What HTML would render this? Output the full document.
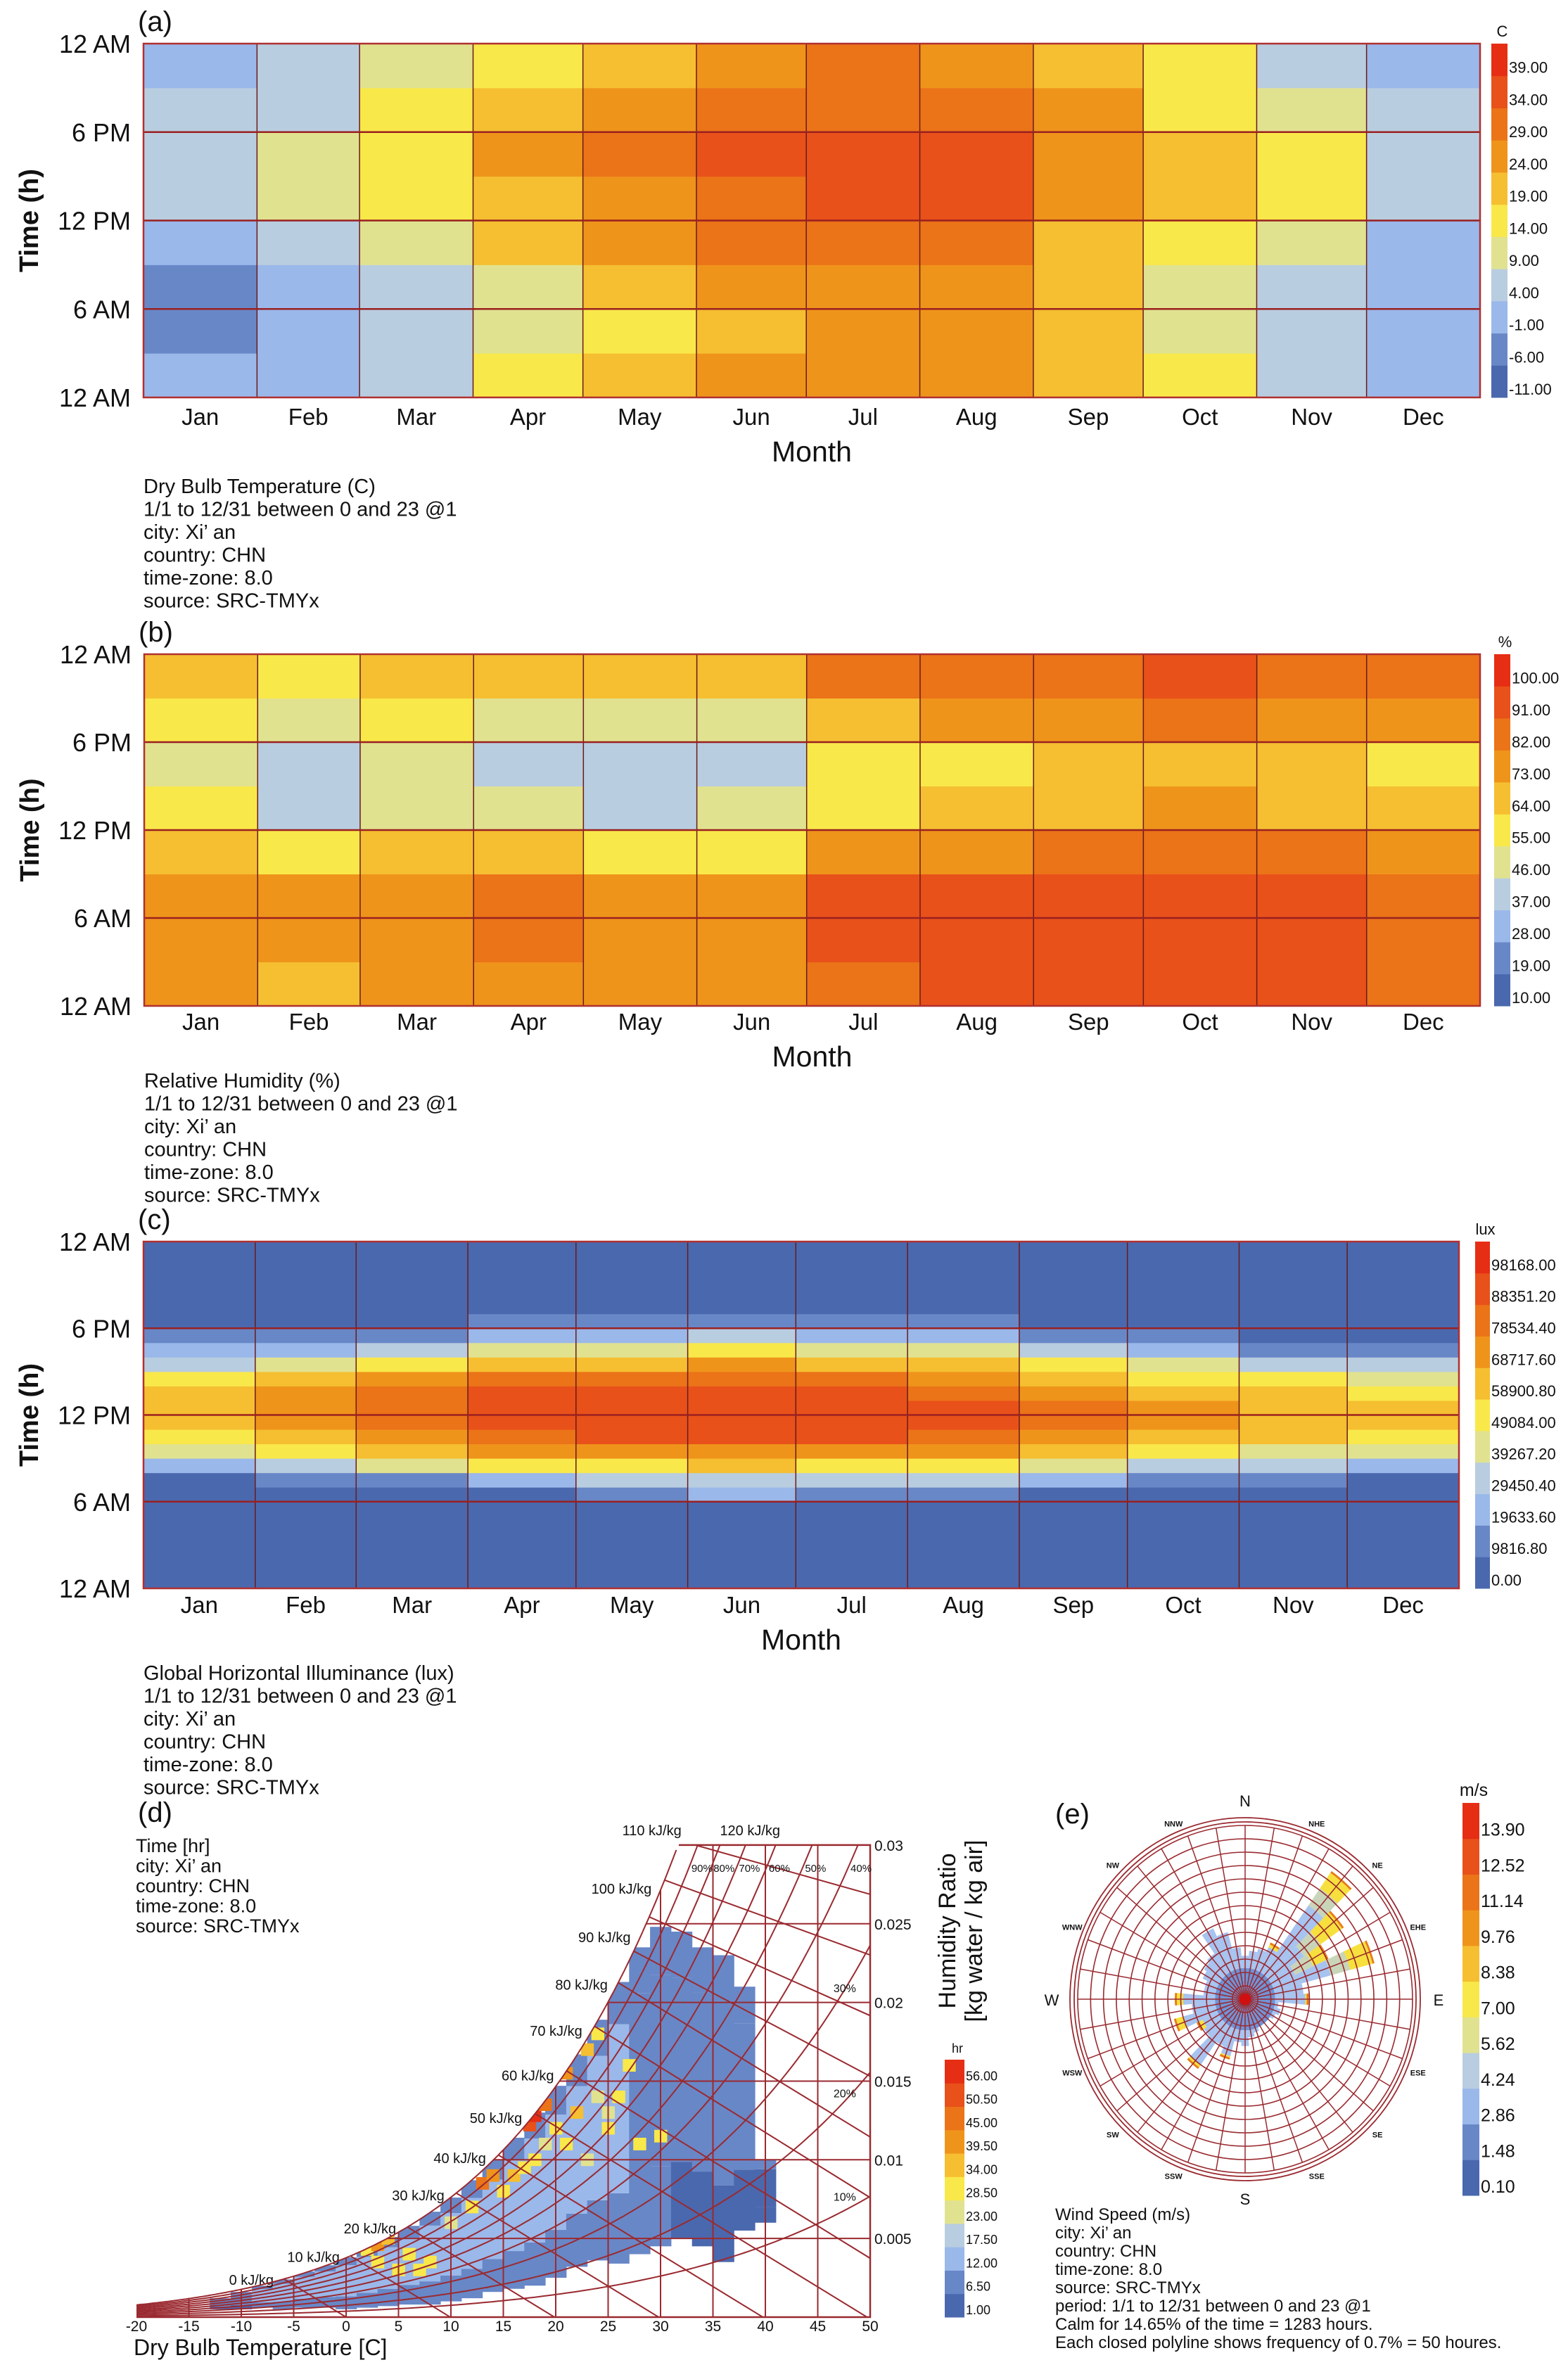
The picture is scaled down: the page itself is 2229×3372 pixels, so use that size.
<!DOCTYPE html>
<html><head><meta charset="utf-8"><title>Xi'an climate charts</title>
<style>
html,body{margin:0;padding:0;background:#fff;width:2229px;height:3372px;overflow:hidden;position:relative;}
svg{display:block;overflow:hidden;position:absolute;left:0;top:0;}
text{font-family:"Liberation Sans Narrow","Liberation Sans",sans-serif;fill:#111;}
.b{font-family:"Liberation Sans",sans-serif;}
</style></head>
<body>
<svg id="root" xmlns="http://www.w3.org/2000/svg" width="2229" height="3372" viewBox="0 0 2229 3372">
<rect x="0" y="0" width="2229" height="3372" fill="#fff"/>
</svg>
<script>
// ---------- DATA ----------
const monthNames = ["Jan","Feb","Mar","Apr","May","Jun","Jul","Aug","Sep","Oct","Nov","Dec"];
const monthStart = [0,31,59,90,120,151,181,212,243,273,304,334,365];
// dry bulb temperature (C), 8 three-hour bins (0-3 ... 21-24) per month
const tempJan=[-3,-4,-4,0,4,5,2,0];
const tempFeb=[1,0,0,4,9,10,6,3];
const tempMar=[6,5,5,10,15,16,12,9];
const tempApr=[12,10,11,17,21,22,18,15];
const tempMay=[17,15,17,23,26,27,24,20];
const tempJun=[22,21,23,27,31,32,29,25];
const tempJul=[25,24,25,29,33,33,30,27];
const tempAug=[24,23,24,28,32,32,29,26];
const tempSep=[18,17,18,21,24,25,22,20];
const tempOct=[12,11,11,15,18,19,15,13];
const tempNov=[5,4,4,8,12,12,8,6];
const tempDec=[-1,-2,-2,1,5,6,2,0];
const tempLabels=["-11.00","-6.00","-1.00","4.00","9.00","14.00","19.00","24.00","29.00","34.00","39.00"];
// relative humidity (%)
const rhJan=[72,75,75,66,52,48,58,68];
const rhFeb=[66,70,70,56,40,36,46,58];
const rhMar=[72,76,76,60,46,42,52,64];
const rhApr=[74,78,78,60,44,40,50,64];
const rhMay=[70,74,74,56,40,36,46,60];
const rhJun=[70,74,74,55,42,38,46,60];
const rhJul=[85,88,88,72,58,55,66,80];
const rhAug=[88,92,92,76,62,58,72,84];
const rhSep=[90,93,93,80,68,64,76,86];
const rhOct=[90,93,93,82,70,66,78,88];
const rhNov=[88,90,90,80,68,64,76,86];
const rhDec=[82,85,85,74,60,56,70,80];
const rhLabels=["10.00","19.00","28.00","37.00","46.00","55.00","64.00","73.00","82.00","91.00","100.00"];
// global horizontal illuminance (lux), hourly 0..23
const luxJan=[0,0,0,0,0,0,0,0,22000,42000,52000,60000,60000,55000,48000,32000,18000,8000,0,0,0,0,0,0];
const luxFeb=[0,0,0,0,0,0,0,6000,28000,48000,60000,66000,68000,64000,56000,40000,24000,10000,0,0,0,0,0,0];
const luxMar=[0,0,0,0,0,0,0,12000,35000,55000,70000,78000,80000,76000,66000,50000,30000,12000,2000,0,0,0,0,0];
const luxApr=[0,0,0,0,0,0,4000,22000,45000,65000,80000,88000,88000,84000,74000,58000,38000,18000,5000,0,0,0,0,0];
const luxMay=[0,0,0,0,0,1000,12000,30000,52000,70000,84000,90000,92000,88000,78000,62000,42000,22000,8000,1000,0,0,0,0];
const luxJun=[0,0,0,0,0,3000,15000,32000,55000,72000,86000,92000,92000,88000,80000,64000,45000,25000,10000,2000,0,0,0,0];
const luxJul=[0,0,0,0,0,1000,12000,30000,52000,70000,84000,90000,92000,88000,78000,62000,42000,24000,10000,1000,0,0,0,0];
const luxAug=[0,0,0,0,0,0,8000,26000,48000,66000,80000,86000,86000,82000,72000,56000,38000,20000,6000,0,0,0,0,0];
const luxSep=[0,0,0,0,0,0,4000,20000,40000,58000,70000,76000,76000,72000,62000,46000,28000,12000,2000,0,0,0,0,0];
const luxOct=[0,0,0,0,0,0,1000,14000,34000,50000,62000,68000,68000,62000,52000,36000,20000,6000,0,0,0,0,0,0];
const luxNov=[0,0,0,0,0,0,0,8000,26000,42000,54000,60000,60000,55000,46000,30000,14000,4000,0,0,0,0,0,0];
const luxDec=[0,0,0,0,0,0,0,4000,20000,38000,50000,56000,56000,52000,44000,28000,12000,3000,0,0,0,0,0,0];
const luxLabels=["0.00","9816.80","19633.60","29450.40","39267.20","49084.00","58900.80","68717.60","78534.40","88351.20","98168.00"];
// psychrometric occupancy columns (dry bulb C, humidity ratio g/kg, hours)
const psyT=[-12,-10,-8,-6,-4,-2,0,2,4,6,8,10,12,14,16,18,20,22,24,26,28,30,32,34,36,38,40];
const psyLow=[0.5,0.5,0.6,0.5,0.6,0.6,0.5,0.6,0.7,0.8,0.8,1.0,1.2,1.6,1.8,2.0,2.5,3.2,3.6,3.4,4.0,4.5,5.0,4.5,3.5,5.5,6.0];
const psyHigh=[1.2,1.6,2.0,2.4,2.9,3.3,3.8,4.4,5.1,5.8,6.7,7.6,8.7,10,11.4,13,14.7,16.7,18.9,21.3,23.5,24.8,24.5,23.5,23.0,21,10];
const psyEdgeHours=[3,3,4,4,4,5,5,5,5,5,5,5,5,5,5,5,5,5,5,4,4,4,3,3,3,3,2];
const psyCoreHours=[6,8,10,11,11,12,12,13,12,12,12,13,14,14,14,14,13,12,11,10,9,8,7,6,5,4,3];
const hotT=[13,14,17.5,18,19,21,23,24,2,3,4,20,22,25,28,30,5,8,15,26,18,12,16,6,27,10,21,24,19,23,17,25,3,7];
const hotW=[8.5,9.0,12.2,12.8,13.5,15.5,17,18,4.3,4.6,5.0,12,13,12,11,11.5,3.0,3.5,8,14,10,7,9,4,16,6,11,14,11,10,9.5,13,3.5,3];
const hotH=[45,40,50,56,45,40,35,30,30,40,35,30,32,30,28,30,30,28,30,30,28,30,32,30,30,24,26,25,22,22,26,24,30,28];
const psyLabels=["1.00","6.50","12.00","17.50","23.00","28.50","34.00","39.50","45.00","50.50","56.00"];
// wind rose: direction (deg from N), frequency length (fraction of radius), high-speed tip fraction
const windDir=[0,10,20,30,40,50,60,70,80,90,100,110,120,130,140,150,160,170,180,190,200,210,220,230,240,250,260,270,280,290,300,310,320,330,340,350];
const windLen=[0.25,0.28,0.30,0.36,0.90,0.72,0.55,0.80,0.35,0.38,0.20,0.22,0.20,0.18,0.18,0.18,0.20,0.22,0.27,0.25,0.36,0.30,0.49,0.30,0.32,0.44,0.32,0.42,0.25,0.25,0.28,0.30,0.32,0.45,0.40,0.30];
const windTip=[0,0,0,0.03,0.12,0.17,0.10,0.15,0,0.02,0,0,0,0,0,0,0,0,0,0,0.02,0,0.03,0,0.04,0.06,0,0.05,0,0,0,0,0,0,0,0];
const windLabels=["0.10","1.48","2.86","4.24","5.62","7.00","8.38","9.76","11.14","12.52","13.90"];

const PAL=["#4a68ae","#6887c7","#9ab8ea","#b9cde0","#e0e290","#f9e84a","#f5bf31","#ef941b","#eb7318","#e8511a","#e62e14"];
const NS="http://www.w3.org/2000/svg";
const root=document.getElementById("root");
function mk(tag,attrs,parent){const e=document.createElementNS(NS,tag);for(const k in attrs)e.setAttribute(k,attrs[k]);(parent||root).appendChild(e);return e;}
function txt(s,x,y,size,parent,extra){const t=mk("text",Object.assign({x:x,y:y,"font-size":size},extra||{}),parent);t.textContent=s;return t;}
function clampIdx(i){return Math.max(0,Math.min(10,Math.round(i)));}

// ---------- HEATMAP PANELS ----------
function colorbar(g,x,y,w,h,labels,unit,fs){
  const bh=h/11;
  for(let i=0;i<11;i++){
    const r=mk("rect",{x:x,y:y+h-(i+1)*bh,width:w,height:bh+0.5,fill:PAL[i]},g);
    
    
    const t=txt(labels[i],x+w+2,y+h-i*bh-4,fs,g);
    
    
  }
  const u=txt(unit,x+w/2+4,y-10,fs,g,{"text-anchor":"middle"});
  
  
}
function heatPanel(cfg){
  const g=mk("g",{});
  
  
  const xs=d=>cfg.x0+d/365*(cfg.x1-cfg.x0);
  const ys=h=>cfg.y1-h/24*(cfg.y1-cfg.y0);
  for(let m=0;m<12;m++){
    const vals=cfg.data[m];const n=vals.length;const span=24/n;
    for(let b=0;b<n;b++){
      const r=mk("rect",{x:xs(monthStart[m]),y:ys((b+1)*span),width:xs(monthStart[m+1])-xs(monthStart[m])+0.5,height:ys(b*span)-ys((b+1)*span)+0.5,fill:PAL[clampIdx(cfg.idx(vals[b]))]},g);
      
      
    }
  }
  for(let m=1;m<12;m++){
    const l=mk("line",{x1:xs(monthStart[m]),x2:xs(monthStart[m]),y1:cfg.y0,y2:cfg.y1,stroke:"#6a1a1a","stroke-width":1.5},g);
    
    
  }
  [6,12,18].forEach(h=>{
    const l=mk("line",{x1:cfg.x0,x2:cfg.x1,y1:ys(h),y2:ys(h),stroke:"#9a2020","stroke-width":2.5},g);
    
    
  });
  const fr=mk("rect",{x:cfg.x0,y:cfg.y0,width:cfg.x1-cfg.x0,height:cfg.y1-cfg.y0,fill:"none",stroke:"#b03030","stroke-width":2.5},g);
  
  
  const hl=[["12 AM",0],["6 AM",6],["12 PM",12],["6 PM",18],["12 AM",24]];
  hl.forEach(p=>{
    const t=txt(p[0],cfg.x0-18,ys(p[1])+13,36,g,{"text-anchor":"end"});
    
    
  });
  monthNames.forEach((nm,m)=>{
    const t=txt(nm,xs((monthStart[m]+monthStart[m+1])/2),cfg.my,33,g,{"text-anchor":"middle"});
    
    
  });
  const mt=txt("Month",(cfg.x0+cfg.x1)/2,cfg.my+52,41,g,{"text-anchor":"middle"});
  
  
  const yt=txt("Time (h)",0,0,38,g,{"text-anchor":"middle","font-weight":"bold",class:"b",transform:"translate("+(cfg.x0-150)+","+((cfg.y0+cfg.y1)/2)+") rotate(-90)"});
  
  
  const pl=txt(cfg.letter,cfg.x0-8,cfg.y0-18,40,g);
  
  
  colorbar(g,cfg.cbx,cfg.y0,cfg.cbw,cfg.y1-cfg.y0,cfg.labels,cfg.unit,22);
  cfg.info.forEach((s,i)=>{
    const t=txt(s,cfg.x0,cfg.ty+i*32.5,29,g);
    
    
  });
}
const infoTail=["1/1 to 12/31 between 0 and 23 @1","city:   Xi\u2019  an","country: CHN","time-zone: 8.0","source: SRC-TMYx"];
heatPanel({name:"temperature-heatmap",letter:"(a)",x0:204,x1:2104,y0:62,y1:565,cbx:2120,cbw:23,my:604,ty:701,unit:"C",labels:tempLabels,
  data:[tempJan,tempFeb,tempMar,tempApr,tempMay,tempJun,tempJul,tempAug,tempSep,tempOct,tempNov,tempDec],idx:v=>(v+11)/5,
  info:["Dry Bulb Temperature (C)"].concat(infoTail)});
heatPanel({name:"humidity-heatmap",letter:"(b)",x0:205,x1:2104,y0:930,y1:1430,cbx:2124,cbw:23,my:1464,ty:1546,unit:"%",labels:rhLabels,
  data:[rhJan,rhFeb,rhMar,rhApr,rhMay,rhJun,rhJul,rhAug,rhSep,rhOct,rhNov,rhDec],idx:v=>(v-10)/9,
  info:["Relative Humidity (%)"].concat(infoTail)});
heatPanel({name:"illuminance-heatmap",letter:"(c)",x0:204,x1:2074,y0:1765,y1:2258,cbx:2097,cbw:21,my:2293,ty:2388,unit:"lux",labels:luxLabels,
  data:[luxJan,luxFeb,luxMar,luxApr,luxMay,luxJun,luxJul,luxAug,luxSep,luxOct,luxNov,luxDec],idx:v=>v/9816.8,
  info:["Global Horizontal Illuminance (lux)"].concat(infoTail)});

// ---------- PSYCHROMETRIC CHART ----------
(function(){
  const g=mk("g",{});
  
  
  const Tx=T=>194+(T+20)*14.9;
  const Wy=W=>3294-W*22.37;
  const ps=T=>0.61094*Math.exp(17.625*T/(T+243.04));
  const Wrh=(T,f)=>{const p=f*ps(T);return 622*p/(101.325-p);};
  let pts=[];let Tmax=50;
  for(let T=-20;T<=50;T+=0.25){const w=Wrh(T,1);if(w>30){Tmax=T;break;}pts.push(Tx(T).toFixed(1)+","+Wy(w).toFixed(1));}
  const clipPts=pts.concat([Tx(Tmax)+","+Wy(30),Tx(50)+","+Wy(30),Tx(50)+","+Wy(0),Tx(-20)+","+Wy(0)]).join(" ");
  const defs=mk("defs",{},g);
  const cp=mk("clipPath",{id:"psyclip"},defs);
  mk("polygon",{points:clipPts},cp);
  const dg=mk("g",{"clip-path":"url(#psyclip)"},g);
  const hIdx=h=>(h-1)/5.5;
  psyT.forEach((T,i)=>{
    const lo=psyLow[i],hi=psyHigh[i],x=Tx(T-1),w=Tx(T+1)-Tx(T-1)+0.5;
    const segs=[[lo,lo+(hi-lo)*0.25,psyEdgeHours[i]],[lo+(hi-lo)*0.25,lo+(hi-lo)*0.85,psyCoreHours[i]],[lo+(hi-lo)*0.85,hi,psyEdgeHours[i]+3]];
    segs.forEach(s=>{
      const r=mk("rect",{x:x,y:Wy(s[1]),width:w,height:Wy(s[0])-Wy(s[1]),fill:PAL[clampIdx(hIdx(s[2]))]},dg);
      
      
    });
  });
  hotT.forEach((T,i)=>{
    const r=mk("rect",{x:Tx(T-0.6),y:Wy(hotW[i]+0.4),width:Tx(1.2)-Tx(0)+0.5,height:Wy(0)-Wy(0.8),fill:PAL[clampIdx(hIdx(hotH[i]))]},dg);
    
    
  });
  const lg=mk("g",{"clip-path":"url(#psyclip)",stroke:"#9a2a30","stroke-width":2,fill:"none"},g);
  for(let T=-20;T<=50;T+=5){const l=mk("line",{x1:Tx(T),x2:Tx(T),y1:Wy(0),y2:Wy(30)},lg);}
  for(let W=5;W<=30;W+=5){const l=mk("line",{x1:Tx(-20),x2:Tx(50),y1:Wy(W),y2:Wy(W)},lg);}
  for(let f=0.1;f<0.95;f+=0.1){let d="";for(let T=-20;T<=50;T+=0.5){d+=(d?"L":"M")+Tx(T).toFixed(1)+","+Wy(Math.min(Wrh(T,f),40)).toFixed(1);}
    const p=mk("path",{d:d},lg);}
  const Wh=(h,T)=>(h-1.006*T)/(2501+1.86*T)*1000;
  for(let h=0;h<=120;h+=10){
    const Tend=Math.min(50,h/1.006);
    const p=mk("line",{x1:Tx(-20),y1:Wy(Math.min(Wh(h,-20),40)),x2:Tx(Tend),y2:Wy(Math.max(0,Wh(h,Tend)))},lg);
    
    
    let a=-20,b=50;for(let k=0;k<40;k++){const m=(a+b)/2;if(Wh(h,m)>Wrh(m,1))a=m;else b=m;}
    let T=a,W=Wrh(a,1);if(W>30){W=30;T=(h-30*2.501)/(1.006+0.0558);}
    const t=txt(h+" kJ/kg",Tx(T)-14,Wy(W)+(W>=30?-14:8),20,g,{"text-anchor":"end"});
    
    
  }
  const sp=mk("polyline",{points:pts.join(" "),fill:"none",stroke:"#9a2a30","stroke-width":2},g);
  
  
  const bd=mk("polyline",{points:[Tx(Tmax)+","+Wy(30),Tx(50)+","+Wy(30),Tx(50)+","+Wy(0),Tx(-20)+","+Wy(0)].join(" "),fill:"none",stroke:"#9a2a30","stroke-width":2.5},g);
  
  
  for(let T=-20;T<=50;T+=5){const t=txt(String(T),Tx(T),3314,21,g,{"text-anchor":"middle"});}
  ["0.005","0.01","0.015","0.02","0.025","0.03"].forEach((s,i)=>{const t=txt(s,Tx(50)+6,Wy((i+1)*5)+8,21,g);});
  [0.9,0.8,0.7,0.6,0.5,0.4].forEach(f=>{let a=-20,b=50;for(let k=0;k<40;k++){const m=(a+b)/2;if(Wrh(m,f)<28.5)a=m;else b=m;}
    const t=txt(Math.round(f*100)+"%",Tx(a)+4,Wy(28.3),15,g);});
  [[0.3,46.5],[0.2,46.5],[0.1,46.5]].forEach(p=>{const t=txt(Math.round(p[0]*100)+"%",Tx(p[1]),Wy(Wrh(p[1],p[0]))-22,16,g);});
  const xt=txt("Dry Bulb Temperature [C]",190,3348,32,g);
  const yt=mk("text",{transform:"translate(1358,2745) rotate(-90)","text-anchor":"middle","font-size":34,class:"b"},g);
  
  
  const s1=mk("tspan",{x:0,dy:0},yt);s1.textContent="Humidity Ratio";
  const s2=mk("tspan",{x:0,dy:38},yt);s2.textContent="[kg water / kg air]";
  const pl=txt("(d)",196,2590,40,g);
  ["Time  [hr]","city:   Xi\u2019  an","country: CHN","time-zone: 8.0","source: SRC-TMYx"].forEach((s,i)=>{const t=txt(s,193,2633+i*28.5,27,g);});
  colorbar(g,1343,2928,28,366,psyLabels,"hr",18);
})();

// ---------- WIND ROSE ----------
(function(){
  const g=mk("g",{});
  
  
  const cx=1770,cy=2842,rx=238,ry=247;
  const P=(a,f)=>{const r=a*Math.PI/180;return (cx+f*rx*Math.sin(r)).toFixed(1)+","+(cy-f*ry*Math.cos(r)).toFixed(1);};
  const sector=(a,f1,f2,fill)=>{const e=mk("polygon",{points:[P(a-5,f1),P(a-2.5,f1),P(a,f1),P(a+2.5,f1),P(a+5,f1),P(a+5,f2),P(a+2.5,f2),P(a,f2),P(a-2.5,f2),P(a-5,f2)].join(" "),fill:fill},g);return e;};
  windDir.forEach((a,i)=>{
    const L=windLen[i],tip=windTip[i];
    const segs=[[0,Math.min(0.18,L),"#6e8fd2"]];
    const tipStart=L-tip;
    const green=L>0.5?0.12:0;
    if(L>0.18)segs.push([0.18,Math.max(0.18,tipStart-green),"#a7c3ef"]);
    if(green)segs.push([tipStart-green,tipStart,"#c9d5b9"]);
    if(tip>0){segs.push([tipStart,L-0.012,"#f7df3e"]);segs.push([L-0.012,L,"#ea7a16"]);}
    segs.forEach(s=>{const e=sector(a,s[0],s[1],s[2]);});
  });
  for(let k=1;k<=13;k++){const e=mk("ellipse",{cx:cx,cy:cy,rx:rx*k/13,ry:ry*k/13,fill:"none",stroke:"#9a2a30","stroke-width":1.6},g);}
  [[243,252],[249,258]].forEach(r=>{const e=mk("ellipse",{cx:cx,cy:cy,rx:r[0],ry:r[1],fill:"none",stroke:"#9a2a30","stroke-width":1.8},g);});
  for(let a=0;a<360;a+=10){const p=P(a,1.0).split(",");const l=mk("line",{x1:cx,y1:cy,x2:p[0],y2:p[1],stroke:"#9a2a30","stroke-width":1.5},g);}
  const c=mk("circle",{cx:cx,cy:cy,r:8,fill:"#d01010"},g);
  [["N",0],["E",90],["S",180],["W",270]].forEach(d=>{const r=d[1]*Math.PI/180;const t=txt(d[0],cx+275*Math.sin(r),cy-283*Math.cos(r)+9,22,g,{"text-anchor":"middle",class:"b"});});
  [["NHE",22.5],["NE",45],["EHE",67.5],["ESE",112.5],["SE",135],["SSE",157.5],["SSW",202.5],["SW",225],["WSW",247.5],["WNW",292.5],["NW",315],["NNW",337.5]].forEach(d=>{const r=d[1]*Math.PI/180;const t=txt(d[0],cx+266*Math.sin(r),cy-271*Math.cos(r)+5,11,g,{"text-anchor":"middle","font-weight":"bold",class:"b"});});
  const pl=txt("(e)",1500,2592,40,g,{class:"b"});
  ["Wind Speed (m/s)","city:   Xi\u2019  an","country: CHN","time-zone: 8.0","source: SRC-TMYx","period: 1/1 to 12/31 between 0 and 23 @1","Calm for 14.65% of the time = 1283 hours.","Each closed polyline shows frequency of 0.7% = 50 houres."].forEach((s,i)=>{const t=txt(s,1500,3156+i*26,24,g);});
  colorbar(g,2079,2563,24,558,windLabels,"m/s",25);
})();
</script>
</body></html>
